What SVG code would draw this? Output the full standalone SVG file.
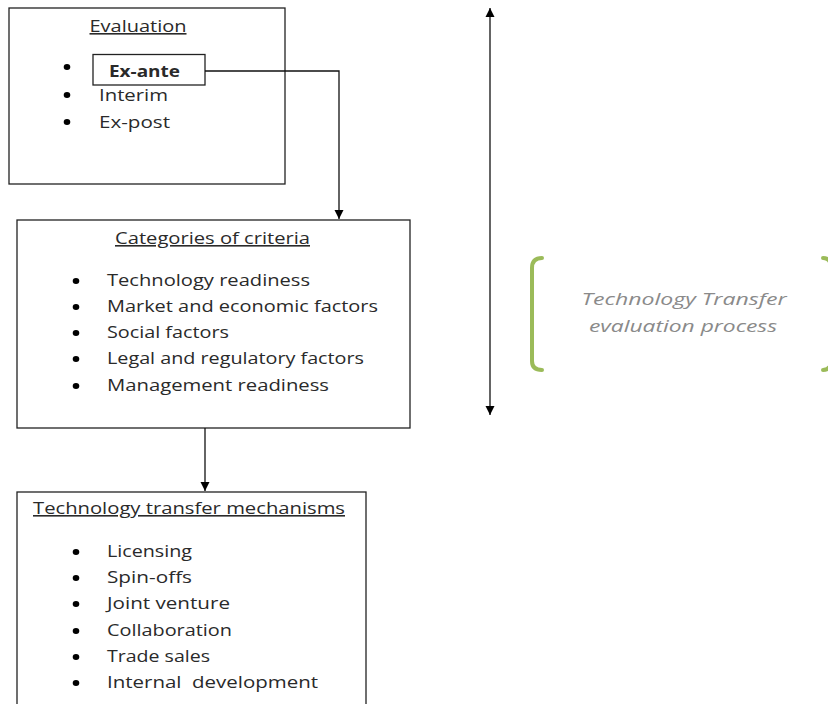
<svg xmlns="http://www.w3.org/2000/svg" width="828" height="704" viewBox="0 0 828 704">
  <defs>
    <marker id="arrow" markerWidth="10" markerHeight="10" refX="9" refY="5" orient="auto" markerUnits="userSpaceOnUse">
      <path d="M0,0.5 L9,5 L0,9.5 Z" fill="#000"/>
    </marker>
    <marker id="arrowStart" markerWidth="10" markerHeight="10" refX="1" refY="5" orient="auto" markerUnits="userSpaceOnUse">
      <path d="M10,0.5 L1,5 L10,9.5 Z" fill="#000"/>
    </marker>
  </defs>
  <style>
    .box { fill: #fff; stroke: #222; stroke-width: 1.3; }
    .txt { font-family: "Open Sans", "Noto Sans", "Liberation Sans", sans-serif; font-size: 16px; fill: #2a2a2a; }
    .title { text-decoration: underline; }
    .bullet { fill: #000; }
    .conn { fill: none; stroke: #111; stroke-width: 1.3; }
    .bracket { fill: none; stroke: #9bbb59; stroke-width: 4; stroke-linecap: round; }
    .note { font-family: "Open Sans", "Noto Sans", "Liberation Sans", sans-serif; font-size: 16px; font-style: italic; fill: #8a8a8a; }
  </style>
  <rect width="828" height="704" fill="#fff"/>

  <!-- Evaluation types -->
  <g id="evaluation">
    <rect class="box" x="9" y="8" width="276" height="176"/>
    <text class="txt title" x="138" y="32" text-anchor="middle" textLength="97" lengthAdjust="spacingAndGlyphs">Evaluation</text>
    <ellipse class="bullet" cx="67" cy="67" rx="3.3" ry="3"/>
    <ellipse class="bullet" cx="67" cy="95" rx="3.3" ry="3"/>
    <ellipse class="bullet" cx="67" cy="122" rx="3.3" ry="3"/>
    <rect class="box" x="93" y="54.5" width="112" height="30.5"/>
    <text class="txt" x="109" y="77" font-weight="bold" textLength="71" lengthAdjust="spacingAndGlyphs">Ex-ante</text>
    <text class="txt" x="99" y="101" textLength="69" lengthAdjust="spacingAndGlyphs">Interim</text>
    <text class="txt" x="99" y="128" textLength="71" lengthAdjust="spacingAndGlyphs">Ex-post</text>
  </g>

  <!-- Criteria categories -->
  <g id="criteria">
    <rect class="box" x="17" y="220" width="393" height="208"/>
    <text class="txt title" x="212.5" y="244" text-anchor="middle" textLength="195" lengthAdjust="spacingAndGlyphs">Categories of criteria</text>
    <ellipse class="bullet" cx="76" cy="281" rx="3.3" ry="3"/>
    <ellipse class="bullet" cx="76" cy="307" rx="3.3" ry="3"/>
    <ellipse class="bullet" cx="76" cy="333" rx="3.3" ry="3"/>
    <ellipse class="bullet" cx="76" cy="359" rx="3.3" ry="3"/>
    <ellipse class="bullet" cx="76" cy="386" rx="3.3" ry="3"/>
    <text class="txt" x="107" y="286" textLength="203" lengthAdjust="spacingAndGlyphs">Technology readiness</text>
    <text class="txt" x="107" y="312" textLength="271" lengthAdjust="spacingAndGlyphs">Market and economic factors</text>
    <text class="txt" x="107" y="338" textLength="122" lengthAdjust="spacingAndGlyphs">Social factors</text>
    <text class="txt" x="107" y="364" textLength="257" lengthAdjust="spacingAndGlyphs">Legal and regulatory factors</text>
    <text class="txt" x="107" y="391" textLength="222" lengthAdjust="spacingAndGlyphs">Management readiness</text>
  </g>

  <!-- Transfer mechanisms -->
  <g id="mechanisms">
    <rect class="box" x="17" y="492" width="349" height="220"/>
    <text class="txt title" x="189" y="514" text-anchor="middle" textLength="312" lengthAdjust="spacingAndGlyphs">Technology transfer mechanisms</text>
    <ellipse class="bullet" cx="76" cy="552" rx="3.3" ry="3"/>
    <ellipse class="bullet" cx="76" cy="578" rx="3.3" ry="3"/>
    <ellipse class="bullet" cx="76" cy="604" rx="3.3" ry="3"/>
    <ellipse class="bullet" cx="76" cy="631" rx="3.3" ry="3"/>
    <ellipse class="bullet" cx="76" cy="657" rx="3.3" ry="3"/>
    <ellipse class="bullet" cx="76" cy="683" rx="3.3" ry="3"/>
    <text class="txt" x="107" y="557" textLength="85" lengthAdjust="spacingAndGlyphs">Licensing</text>
    <text class="txt" x="107" y="583" textLength="85" lengthAdjust="spacingAndGlyphs">Spin-offs</text>
    <text class="txt" x="107" y="609" textLength="123" lengthAdjust="spacingAndGlyphs">Joint venture</text>
    <text class="txt" x="107" y="636" textLength="125" lengthAdjust="spacingAndGlyphs">Collaboration</text>
    <text class="txt" x="107" y="662" textLength="103" lengthAdjust="spacingAndGlyphs">Trade sales</text>
    <text class="txt" x="107" y="688" textLength="211" lengthAdjust="spacingAndGlyphs" xml:space="preserve">Internal  development</text>
  </g>

  <!-- Process span annotation -->
  <g id="process-note">
    <path class="bracket" d="M542,258 Q532,258 532,268 L532,361 Q532,370 542,370"/>
    <path class="bracket" d="M823,258 Q831,258 831,268 L831,361 Q831,370 823,370"/>
    <text class="note" x="684" y="305" text-anchor="middle" textLength="205" lengthAdjust="spacingAndGlyphs">Technology Transfer</text>
    <text class="note" x="683" y="332" text-anchor="middle" textLength="188" lengthAdjust="spacingAndGlyphs">evaluation process</text>
  </g>

  <!-- Connectors -->
  <g id="connectors">
    <polyline class="conn" points="205,71 339,71 339,219" marker-end="url(#arrow)"/>
    <line class="conn" x1="205" y1="428" x2="205" y2="491" marker-end="url(#arrow)"/>
    <line class="conn" x1="490" y1="8" x2="490" y2="415" marker-start="url(#arrowStart)" marker-end="url(#arrow)"/>
  </g>
</svg>
